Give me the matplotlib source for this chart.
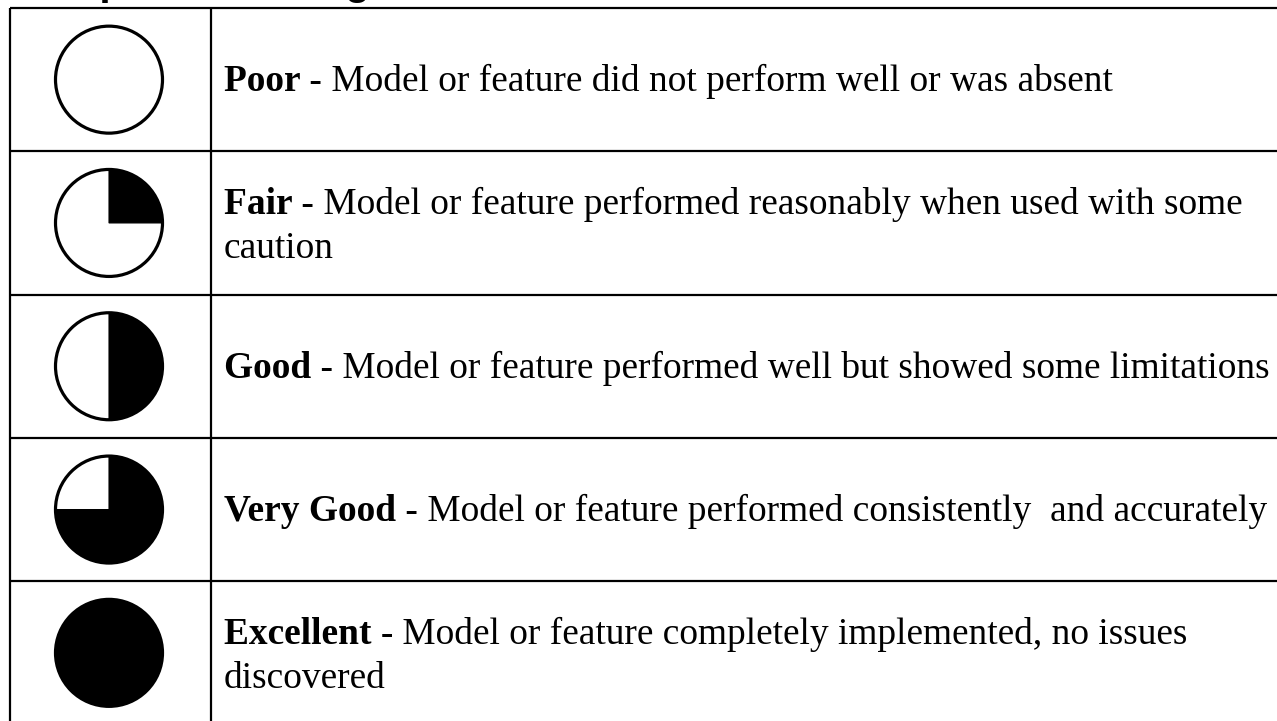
import matplotlib
matplotlib.use("Agg")
import matplotlib.pyplot as plt
from matplotlib.patches import Circle, Wedge

# datos de la tabla
ratings = ["Poor -", "Fair -", "Good -", "Very Good -", "Excellent -"]
fill_fraction = [0.0, 0.25, 0.5, 0.75, 1.0]
first_lines = [
    " Model or feature did not perform well or was absent",
    " Model or feature performed reasonably when used with some",
    " Model or feature performed well but showed some limitations",
    " Model or feature performed consistently  and accurately",
    " Model or feature completely implemented, no issues",
]
second_lines = ["", "caution", "", "", "discovered"]
title = "Component Rating"

W, H = 1277, 721
fig = plt.figure(figsize=(W / 100, H / 100), dpi=100)
ax = fig.add_axes([0, 0, 1, 1])
ax.set_xlim(0, W)
ax.set_ylim(H, 0)
ax.set_aspect("equal")
ax.axis("off")

# geometria de la tabla (pixeles)
left, divider, top, row_h = 10, 211, 8, 143.3
lw = 1.6
serif = "Liberation Serif"
fs = 26.9

# titulo cortado arriba (solo se ven los trazos bajos)
fig.text(10 / W, 1 + 5 / H, title, fontsize=29, fontweight="bold",
         family="Liberation Sans", va="baseline", ha="left")

n = len(ratings)
for i in range(n + 1):
    y = top + i * row_h
    ax.plot([left, W + 5], [y, y], color="black", lw=lw, solid_capstyle="butt", clip_on=False)
for x in [left, divider]:
    ax.plot([x, x], [top, H + 5], color="black", lw=lw, solid_capstyle="butt", clip_on=False)

fig.canvas.draw()
renderer = fig.canvas.get_renderer()

cx, r = 109, 53.5
for i in range(n):
    cy = top + (i + 0.5) * row_h
    f = fill_fraction[i]
    if f > 0:
        if f >= 1:
            ax.add_patch(Circle((cx, cy), r, facecolor="black", edgecolor="none"))
        else:
            # eje y invertido: angulos en sentido contrario
            ax.add_patch(Wedge((cx, cy), r, 270, 270 + 360 * f, facecolor="black",
                               edgecolor="black", lw=0.8))
    ax.add_patch(Circle((cx, cy), r, facecolor="none", edgecolor="black", lw=2.3))

    # texto: parte en negrita + parte normal
    if second_lines[i]:
        y1 = cy - 9
    else:
        y1 = cy + 11.5
    x0 = 224
    tb = ax.text(x0, y1, ratings[i], fontsize=fs, fontweight="bold", family=serif,
                 va="baseline", ha="left")
    bb = tb.get_window_extent(renderer=renderer)
    x_end = ax.transData.inverted().transform((bb.x1, bb.y0))[0]
    ax.text(x_end, y1, first_lines[i], fontsize=fs, family=serif, va="baseline", ha="left")
    if second_lines[i]:
        ax.text(x0, y1 + 44, second_lines[i], fontsize=fs, family=serif,
                va="baseline", ha="left")

fig.savefig("out.png", dpi=100)
